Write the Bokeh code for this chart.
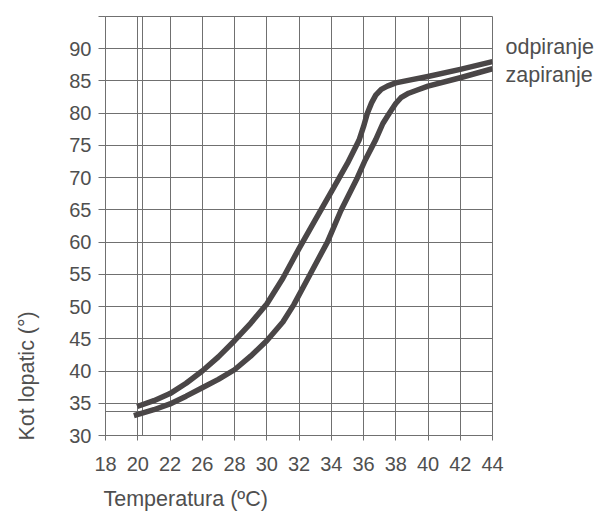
from bokeh.plotting import figure
from bokeh.models import FixedTicker, LinearAxis, Range1d, Title
from bokeh.embed import file_html
from bokeh.resources import INLINE

# x positions are grid indices; the printed tick labels (note: no 24 in original)
x_tick_labels = ["18", "20", "22", "26", "28", "30", "32", "34", "36", "38", "40", "42", "44"]
y_ticks = [30, 35, 40, 45, 50, 55, 60, 65, 70, 75, 80, 85, 90, 95]

odpiranje_x = [0.98, 1.5, 2.0, 2.5, 3.0, 3.5, 4.0, 4.5, 5.0, 5.5, 6.0, 6.5, 7.0, 7.5, 7.86, 8.0, 8.12, 8.25, 8.38, 8.55, 8.74, 9.0, 9.5, 10.0, 11.0, 12.0]
odpiranje_y = [34.5, 35.4, 36.5, 38.1, 40.0, 42.2, 44.7, 47.4, 50.4, 54.4, 59.0, 63.4, 67.8, 72.2, 75.8, 77.9, 80.0, 81.6, 82.8, 83.7, 84.2, 84.7, 85.2, 85.7, 86.8, 88.0]

zapiranje_x = [0.88, 1.5, 2.0, 2.5, 3.0, 3.5, 4.0, 4.5, 5.0, 5.5, 5.84, 6.3, 6.88, 7.3, 7.81, 8.05, 8.38, 8.6, 8.8, 9.0, 9.16, 9.4, 9.67, 10.0, 11.0, 12.0]
zapiranje_y = [33.1, 34.0, 34.9, 36.1, 37.4, 38.7, 40.2, 42.3, 44.7, 47.6, 50.3, 54.6, 60.0, 64.9, 70.0, 72.7, 75.9, 78.4, 80.0, 81.5, 82.4, 83.1, 83.6, 84.2, 85.5, 86.9]

series_names = ["odpiranje", "zapiranje"]
series_label_y = [90.3, 86.0]

extra_x_gridlines = [1.14]
extra_y_gridlines = [33.8]

TEXT = "#4f4f4f"
GRID = "#707070"
CURVE = "#4a4647"
FONT = "Liberation Sans"

p = figure(width=596, height=524, output_backend="svg", toolbar_location=None,
           x_range=(0, 12), y_range=(30, 95),
           min_border_left=105, min_border_right=104, min_border_top=16, min_border_bottom=89)
p.background_fill_color = "white"
p.border_fill_color = "white"
p.outline_line_color = GRID
p.outline_line_width = 1

xt = list(range(len(x_tick_labels)))
p.xaxis.ticker = FixedTicker(ticks=xt)
p.xaxis.major_label_overrides = {i: lab for i, lab in enumerate(x_tick_labels)}
p.yaxis.ticker = FixedTicker(ticks=y_ticks)
p.yaxis.major_label_overrides = {95: ""}
p.xgrid.ticker = FixedTicker(ticks=xt + extra_x_gridlines)
p.ygrid.ticker = FixedTicker(ticks=y_ticks + extra_y_gridlines)

for g in (p.xgrid, p.ygrid):
    g.grid_line_color = GRID
    g.grid_line_width = 1

for ax in (p.xaxis, p.yaxis):
    ax.axis_line_color = GRID
    ax.major_tick_line_color = GRID
    ax.minor_tick_line_color = None
    ax.major_tick_in = 0
    ax.major_label_text_font = FONT
    ax.major_label_text_font_size = "20px"
    ax.major_label_text_color = TEXT

p.xaxis.major_tick_out = 5
p.xaxis.major_label_standoff = 16
p.yaxis.major_tick_out = 7
p.yaxis.major_label_standoff = 7

p.line(odpiranje_x, odpiranje_y, line_color=CURVE, line_width=5.5, line_join="round")
p.line(zapiranje_x, zapiranje_y, line_color=CURVE, line_width=5.5, line_join="round")

# series names at the right end, as a tick-less right axis
p.extra_y_ranges = {"lab": Range1d(30, 95)}
lab_axis = LinearAxis(y_range_name="lab",
                      ticker=FixedTicker(ticks=series_label_y),
                      major_label_overrides={v: n for v, n in zip(series_label_y, series_names)},
                      axis_line_color=None, major_tick_line_color=None, minor_tick_line_color=None,
                      major_tick_out=0, major_tick_in=0, major_label_standoff=13,
                      major_label_text_font=FONT, major_label_text_font_size="21.5px",
                      major_label_text_color=TEXT)
p.add_layout(lab_axis, "right")

p.add_layout(Title(text="Temperatura (ºC)", align="left", offset=-2, standoff=23,
                   text_font=FONT, text_font_size="21.5px", text_font_style="normal",
                   text_color=TEXT), "below")
# spacer panel so the y title sits near the page edge
p.add_layout(Title(text=" ", standoff=0, text_font=FONT, text_font_size="14px",
                   text_font_style="normal", text_color="white"), "left")
p.add_layout(Title(text="Kot lopatic (°)", align="left", offset=-5, standoff=20,
                   text_font=FONT, text_font_size="21.5px", text_font_style="normal",
                   text_color=TEXT), "left")

open("out.html", "w").write(file_html(p, INLINE))
